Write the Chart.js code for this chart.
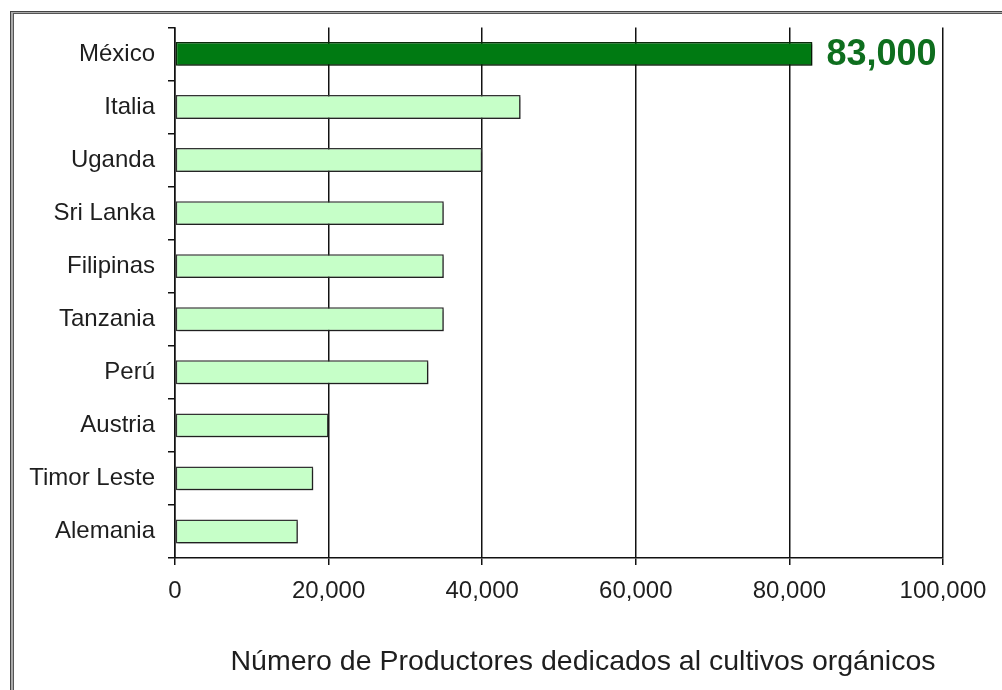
<!DOCTYPE html>
<html>
<head>
<meta charset="utf-8">
<script src="https://cdn.jsdelivr.net/npm/chart.js@4/dist/chart.umd.min.js"></script>
<style>
html,body{margin:0;padding:0;background:#fff;}
canvas{display:block;}
</style>
</head>
<body>
<canvas id="c" width="1002" height="690"></canvas>
<script>
const categories = ["México","Italia","Uganda","Sri Lanka","Filipinas","Tanzania","Perú","Austria","Timor Leste","Alemania"];
const productores = [83000,45000,40000,35000,35000,35000,33000,20000,18000,16000];
const xTicks = [0,20000,40000,60000,80000,100000];
const axisTitle = "Número de Productores dedicados al cultivos orgánicos";
const highlightLabel = "83,000";

const FONT = "'Liberation Sans', Arial, sans-serif";

const framePlugin = {
  id: 'frame',
  beforeDraw(chart){
    const ctx = chart.ctx;
    ctx.save();
    ctx.fillStyle = '#fff';
    ctx.fillRect(0,0,chart.width,chart.height);
    ctx.fillStyle = '#444';
    ctx.fillRect(10,11,1,chart.height);
    ctx.fillRect(10,11,chart.width,1);
    ctx.fillStyle = '#aaa';
    ctx.fillRect(11,12,2,chart.height);
    ctx.fillRect(11,12,chart.width,1);
    ctx.fillStyle = '#555';
    ctx.fillRect(13,13,1,chart.height);
    ctx.fillRect(13,13,chart.width,1);
    ctx.restore();
  }
};

const shadowPlugin = {
  id: 'barShadow',
  beforeDatasetsDraw(chart){
    const ctx = chart.ctx;
    ctx.save();
    ctx.shadowColor = 'rgba(0,0,0,0.4)';
    ctx.shadowOffsetX = 2;
    ctx.shadowOffsetY = 2;
    ctx.shadowBlur = 2;
  },
  afterDatasetsDraw(chart){
    chart.ctx.restore();
  }
};

const labelPlugin = {
  id: 'valueLabel',
  afterDatasetsDraw(chart){
    const ctx = chart.ctx;
    const bar = chart.getDatasetMeta(0).data[0];
    ctx.save();
    ctx.font = "bold 36px " + FONT;
    ctx.fillStyle = '#0E6E1E';
    ctx.textAlign = 'left';
    ctx.textBaseline = 'middle';
    ctx.fillText(highlightLabel, bar.x + 14, bar.y + 1);
    ctx.restore();
  }
};

const titlePlugin = {
  id: 'axisTitleText',
  afterDraw(chart){
    const ctx = chart.ctx;
    ctx.save();
    ctx.font = "28.5px " + FONT;
    ctx.fillStyle = '#1e1e1e';
    ctx.textAlign = 'center';
    ctx.textBaseline = 'middle';
    ctx.fillText(axisTitle, 583, 662);
    ctx.restore();
  }
};

new Chart(document.getElementById('c'), {
  type: 'bar',
  data: {
    labels: categories,
    datasets: [{
      data: productores,
      backgroundColor: categories.map((c,i)=> i===0 ? '#007A12' : '#C6FFC8'),
      borderColor: categories.map((c,i)=> i===0 ? '#0A2A0A' : '#333'),
      borderWidth: 1.5,
      borderSkipped: false,
      barPercentage: 0.45,
      categoryPercentage: 1
    }]
  },
  plugins: [framePlugin, shadowPlugin, labelPlugin, titlePlugin],
  options: {
    indexAxis: 'y',
    responsive: false,
    devicePixelRatio: 1,
    animation: false,
    locale: 'en-US',
    layout: { padding: { left: 0, top: 27, right: 59, bottom: 0 } },
    plugins: { legend: { display: false }, tooltip: { enabled: false } },
    scales: {
      x: {
        type: 'linear',
        min: 0, max: 100000,
        afterBuildTicks(s){ s.ticks = xTicks.map(v=>({value:v})); },
        afterFit(s){ s.height = 132; },
        ticks: { color: '#1e1e1e', font: { family: FONT, size: 24 }, padding: 12, maxRotation: 0 },
        grid: { color: '#111', lineWidth: 1.5, drawTicks: true, tickLength: 7, tickColor: '#111' },
        border: { display: true, color: '#111', width: 1.5 }
      },
      y: {
        afterFit(s){ s.width = 175; },
        ticks: { color: '#1e1e1e', font: { family: FONT, size: 24 }, padding: 13 },
        grid: { offset: true, drawOnChartArea: false, drawTicks: true, tickLength: 7, color: '#111', lineWidth: 1.5 },
        border: { display: true, color: '#111', width: 1.5 }
      }
    }
  }
});
</script>
</body>
</html>
